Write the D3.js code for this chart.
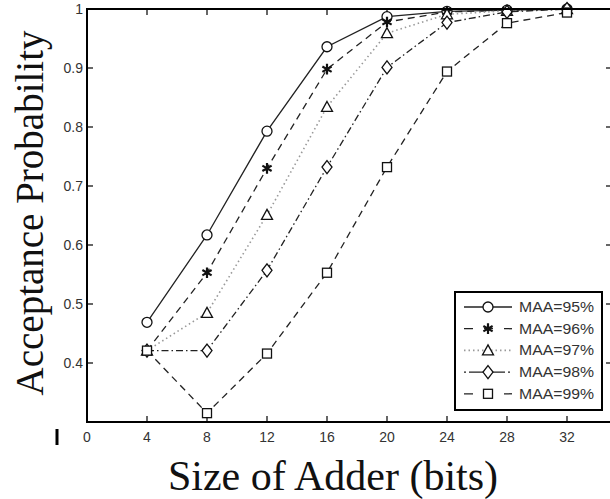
<!DOCTYPE html>
<html>
<head>
<meta charset="utf-8">
<script src="https://cdn.jsdelivr.net/npm/d3@7"></script>
<style>
  body { margin: 0; background: #fff; }
  svg { display: block; }
</style>
</head>
<body>
<script>
// adder sizes (bits)
const sizes = [4, 8, 12, 16, 20, 24, 28, 32];

// acceptance probability per MAA level
const maa95 = [0.469, 0.617, 0.793, 0.936, 0.987, 0.996, 0.998, 1.0];
const maa96 = [0.421, 0.553, 0.730, 0.898, 0.978, 0.995, 0.998, 1.0];
const maa97 = [0.421, 0.485, 0.651, 0.834, 0.959, 0.991, 0.997, 1.0];
const maa98 = [0.421, 0.421, 0.557, 0.732, 0.901, 0.977, 0.995, 1.0];
const maa99 = [0.421, 0.315, 0.416, 0.553, 0.732, 0.894, 0.976, 0.994];

const seriesNames = ["MAA=95%", "MAA=96%", "MAA=97%", "MAA=98%", "MAA=99%"];
const xTicks = [0, 4, 8, 12, 16, 20, 24, 28, 32];
const yTicks = [0.4, 0.5, 0.6, 0.7, 0.8, 0.9, 1];

const W = 610, H = 499;
const svg = d3.select("body").append("svg").attr("width", W).attr("height", H);

// scales - right edge of the frame sits just outside the picture
const x = d3.scaleLinear().domain([0, 35]).range([87, 612]);
const y = d3.scaleLinear().domain([0.3, 1]).range([422, 9]);

// line styles per series
const styles = [
  { dash: null, color: "#222", symbol: "circle" },
  { dash: "7,5", color: "#222", symbol: "star" },
  { dash: "1.5,3", color: "#999", symbol: "triangle" },
  { dash: "7,3,1.5,3", color: "#222", symbol: "diamond" },
  { dash: "7,5", color: "#222", symbol: "square" }
];
const data = [maa95, maa96, maa97, maa98, maa99];

// ticks on all four sides, pointing inward
const tk = svg.append("g").attr("stroke", "#000").attr("stroke-width", 1.2);
xTicks.forEach(t => {
  tk.append("line").attr("x1", x(t)).attr("x2", x(t)).attr("y1", y(0.3)).attr("y2", y(0.3) - 6);
  tk.append("line").attr("x1", x(t)).attr("x2", x(t)).attr("y1", y(1)).attr("y2", y(1) + 6);
});
yTicks.forEach(t => {
  tk.append("line").attr("x1", x(0)).attr("x2", x(0) + 6).attr("y1", y(t)).attr("y2", y(t));
  tk.append("line").attr("x1", x(35)).attr("x2", x(35) - 6).attr("y1", y(t)).attr("y2", y(t));
});

// tick labels
svg.append("g").selectAll("text").data(xTicks).enter().append("text")
  .attr("x", d => x(d)).attr("y", 442)
  .attr("text-anchor", "middle")
  .attr("font-family", "Liberation Sans, Arial, sans-serif")
  .attr("font-size", 14).attr("fill", "#333")
  .text(d => d);

svg.append("g").selectAll("text").data(yTicks).enter().append("text")
  .attr("x", 83).attr("y", d => y(d) + 5)
  .attr("text-anchor", "end")
  .attr("font-family", "Liberation Sans, Arial, sans-serif")
  .attr("font-size", 14).attr("fill", "#333")
  .text(d => d === 1 ? "1" : d.toFixed(1));

// lines
const line = d3.line().x((d, i) => x(sizes[i])).y(d => y(d));
const plot = svg.append("g");
data.forEach((vals, k) => {
  plot.append("path")
    .attr("d", line(vals))
    .attr("fill", "none")
    .attr("stroke", styles[k].color)
    .attr("stroke-width", k === 2 ? 1.6 : 1.3)
    .attr("stroke-dasharray", styles[k].dash);
});

function drawMarker(g, type, cx, cy) {
  const m = g.append("g").attr("transform", `translate(${cx},${cy})`)
    .attr("fill", "#fff").attr("stroke", "#111").attr("stroke-width", 1.3);
  if (type === "circle") {
    m.append("circle").attr("r", 5);
  } else if (type === "star") {
    m.append("path").attr("d", d3.symbol(d3.symbolAsterisk, 80)()).attr("stroke-width", 2.2);
  } else if (type === "triangle") {
    m.append("path").attr("d", "M0,-5.5L5.5,4.5L-5.5,4.5Z");
  } else if (type === "diamond") {
    m.append("path").attr("d", "M0,-6.5L5,0L0,6.5L-5,0Z");
  } else if (type === "square") {
    m.append("rect").attr("x", -4.5).attr("y", -4.5).attr("width", 9).attr("height", 9);
  }
}

data.forEach((vals, k) => {
  vals.forEach((v, i) => drawMarker(plot, styles[k].symbol, x(sizes[i]), y(v)));
});

// frame
svg.append("rect")
  .attr("x", x(0)).attr("y", y(1))
  .attr("width", x(35) - x(0)).attr("height", y(0.3) - y(1))
  .attr("fill", "none").attr("stroke", "#000").attr("stroke-width", 2);

// legend
const lg = svg.append("g");
lg.append("rect").attr("x", 455).attr("y", 292).attr("width", 147).attr("height", 118)
  .attr("fill", "#fff").attr("stroke", "#000").attr("stroke-width", 2);
seriesNames.forEach((name, k) => {
  const ry = 307 + k * 21.7;
  lg.append("line").attr("x1", 464).attr("x2", 512).attr("y1", ry).attr("y2", ry)
    .attr("stroke", styles[k].color)
    .attr("stroke-width", k === 2 ? 1.6 : 1.3)
    .attr("stroke-dasharray", k === 0 ? null : (k === 3 ? "2,3,14,3" : (k === 2 ? "1.5,3" : "9,11")));
  drawMarker(lg, styles[k].symbol, 488, ry);
  lg.append("text").attr("x", 519).attr("y", ry + 5)
    .attr("font-family", "Liberation Sans, Arial, sans-serif")
    .attr("font-size", 14).attr("fill", "#333")
    .attr("textLength", 75).attr("lengthAdjust", "spacingAndGlyphs")
    .text(name);
});

// axis titles
svg.append("text")
  .attr("transform", "translate(43,213) rotate(-90)")
  .attr("text-anchor", "middle")
  .attr("font-family", "Liberation Serif, Times New Roman, serif")
  .attr("font-size", 39).attr("fill", "#111")
  .text("Acceptance Probability");

svg.append("text")
  .attr("x", 333).attr("y", 490)
  .attr("text-anchor", "middle")
  .attr("font-family", "Liberation Serif, Times New Roman, serif")
  .attr("font-size", 42).attr("fill", "#111")
  .text("Size of Adder (bits)");

// small stray mark left of the x axis labels
svg.append("line").attr("x1", 57).attr("x2", 57).attr("y1", 429).attr("y2", 445)
  .attr("stroke", "#000").attr("stroke-width", 3);
</script>
</body>
</html>
